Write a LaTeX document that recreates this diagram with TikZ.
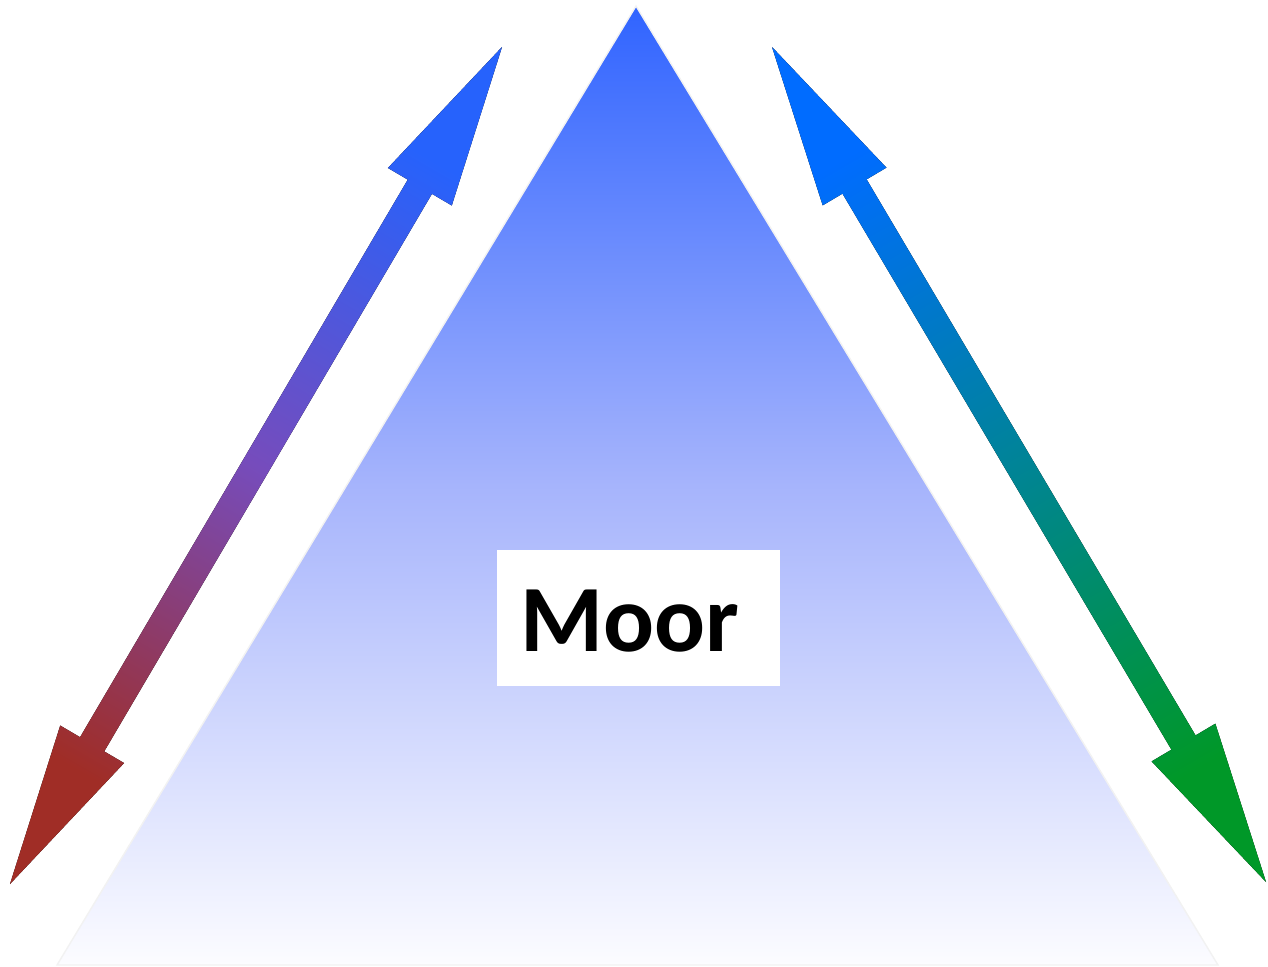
\documentclass[tikz,border=0pt]{standalone}
\usepackage{fontspec}
\setmainfont{Carlito}
\usepackage{tikz}
\usetikzlibrary{calc}
\definecolor{triblue}{RGB}{48,100,255}
\definecolor{trimid}{RGB}{166,180,252}
\definecolor{triwhite}{RGB}{252,252,255}
\definecolor{arrblue}{RGB}{38,98,252}
\definecolor{arrpurple}{RGB}{118,76,188}
\definecolor{arrred}{RGB}{160,45,38}
\definecolor{arrsky}{RGB}{0,108,255}
\definecolor{arrteal}{RGB}{0,132,150}
\definecolor{arrgreen}{RGB}{0,152,40}
% fat double arrow between two tips
\newcommand{\fatarrow}[3]{%
  \fill[#3] (#1)
    -- ($(#1)!1.62cm!(#2)!0.37cm!90:(#2)$)
    -- ($(#1)!1.62cm!(#2)!0.14cm!90:(#2)$)
    -- ($(#2)!1.62cm!(#1)!0.14cm!-90:(#1)$)
    -- ($(#2)!1.62cm!(#1)!0.37cm!-90:(#1)$)
    -- (#2)
    -- ($(#2)!1.62cm!(#1)!0.37cm!90:(#1)$)
    -- ($(#2)!1.62cm!(#1)!0.14cm!90:(#1)$)
    -- ($(#1)!1.62cm!(#2)!0.14cm!-90:(#2)$)
    -- ($(#1)!1.62cm!(#2)!0.37cm!-90:(#2)$)
    -- cycle;}
\begin{document}
\begin{tikzpicture}[x=0.01cm, y=-0.01cm]
\useasboundingbox (0,0) rectangle (1268,966);
% Triangle
\coordinate (apex) at (636,6);
\coordinate (lcorner) at (57,965);
\coordinate (rcorner) at (1218,965);
\shadedraw[top color=triblue, bottom color=triwhite, middle color=trimid, draw=gray!10, thin]
  (apex) -- (lcorner) -- (rcorner) -- cycle;
% Left arrow
\coordinate (ltop) at (502,47);
\coordinate (lbot) at (10,884);
\fatarrow{ltop}{lbot}{top color=arrblue, bottom color=arrred, middle color=arrpurple, shading angle=-30}
% Right arrow
\coordinate (rtop) at (772,47);
\coordinate (rbot) at (1266,882);
\fatarrow{rtop}{rbot}{top color=arrsky, bottom color=arrgreen, middle color=arrteal, shading angle=30}
% Label box
\node[fill=white, minimum width=2.83cm, minimum height=1.36cm, inner sep=0] (moorbox) at (638.5,618) {};
\node[anchor=base west, inner sep=0, font=\fontsize{27}{32}\selectfont\bfseries] (moor) at (520,651) {Moor};
\end{tikzpicture}
\end{document}
